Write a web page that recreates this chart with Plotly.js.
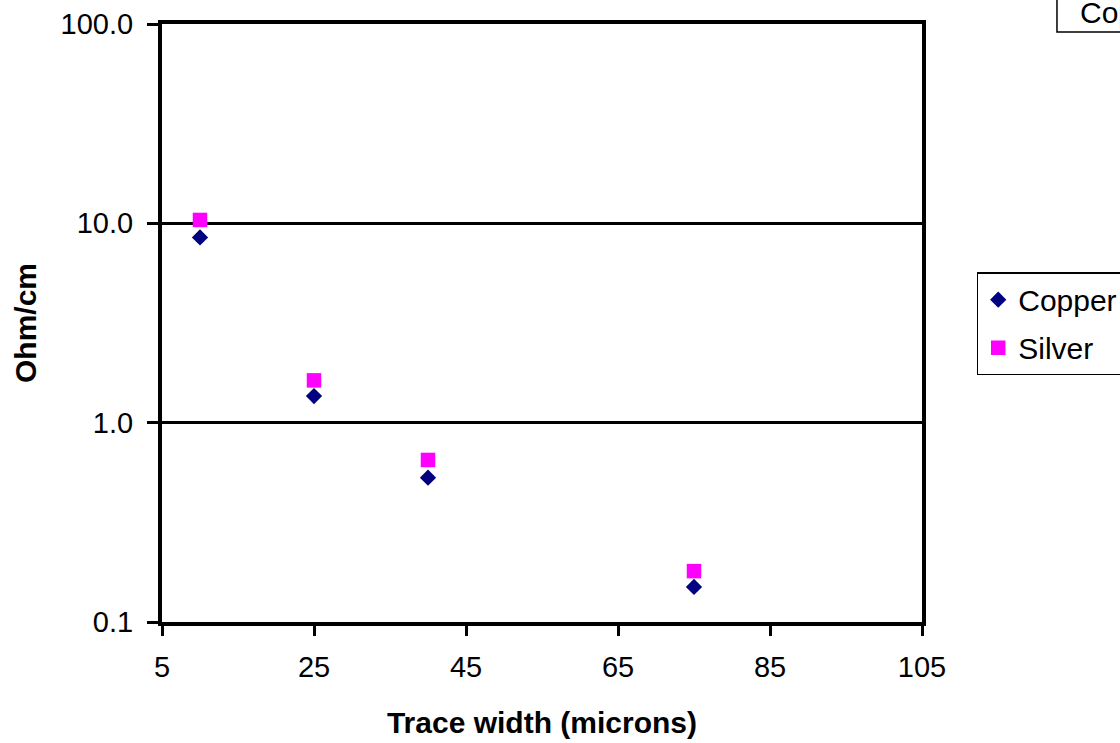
<!DOCTYPE html>
<html>
<head>
<meta charset="utf-8">
<script src="https://cdn.plot.ly/plotly-3.0.1.min.js"></script>
<style>
html,body{margin:0;padding:0;background:#fff;width:1120px;height:743px;overflow:hidden;}
#chart{width:1120px;height:743px;overflow:hidden;position:relative;}
</style>
</head>
<body>
<div id="chart"></div>
<script>
// Data
const traceWidths = [10, 25, 40, 75];
const copperOhm = [8.5, 1.36, 0.53, 0.15];
const silverOhm = [10.4, 1.63, 0.65, 0.18];
const xTickVals = [5, 25, 45, 65, 85, 105];
const yTickVals = [0.1, 1, 10, 100];
const yTickText = ['0.1', '1.0', '10.0', '100.0'];
const seriesNames = ['Copper', 'Silver'];
const chartTitle = 'Copper vs Silver trace resistance';

const FONT = 'Liberation Sans, Arial, sans-serif';

const traces = [
  {
    x: traceWidths, y: copperOhm, name: seriesNames[0], legendgroup: 'g1',
    type: 'scatter', mode: 'markers',
    marker: {symbol: 'diamond', size: 12.5, color: '#000080'}
  },
  {
    x: traceWidths, y: silverOhm, name: seriesNames[1], legendgroup: 'g2',
    type: 'scatter', mode: 'markers',
    marker: {symbol: 'square', size: 14.5, color: '#FF00FF'}
  }
];

const layout = {
  width: 1120, height: 743,
  paper_bgcolor: '#ffffff', plot_bgcolor: '#ffffff',
  margin: {l: 162, r: 198, t: 24, b: 121, autoexpand: false},
  font: {family: FONT, size: 29, color: '#000'},
  showlegend: true,
  legend: {
    x: 1.072, y: 0.585, xanchor: 'left', yanchor: 'top',
    bordercolor: '#000', borderwidth: 1.5, bgcolor: '#fff',
    font: {family: FONT, size: 30, color: '#000'},
    itemwidth: 30, traceorder: 'grouped', tracegroupgap: 6
  },
  xaxis: {
    range: [5, 105], tickvals: xTickVals, ticktext: xTickVals.map(String),
    showline: true, linecolor: '#000', linewidth: 4, mirror: true,
    ticks: 'outside', ticklen: 10, tickwidth: 3, tickcolor: '#000',
    ticklabelstandoff: 6,
    showgrid: false, zeroline: false,
    tickfont: {family: FONT, size: 29, color: '#000'},
    title: {text: 'Trace width (microns)', standoff: 31,
            font: {family: FONT, size: 30, color: '#000', weight: 700}},
    automargin: false
  },
  yaxis: {
    type: 'log', range: [-1, 2], tickvals: yTickVals, ticktext: yTickText,
    showline: true, linecolor: '#000', linewidth: 4, mirror: true,
    ticks: 'outside', ticklen: 11, tickwidth: 3, tickcolor: '#000',
    ticklabelstandoff: 8,
    showgrid: true, gridcolor: '#000', gridwidth: 2.5, zeroline: false,
    tickfont: {family: FONT, size: 29, color: '#000'},
    title: {text: 'Ohm/cm', standoff: 16,
            font: {family: FONT, size: 30, color: '#000', weight: 700}},
    automargin: false
  },
  shapes: [{
    type: 'rect', xref: 'paper', yref: 'paper',
    x0: 1.1776, x1: 1.3, y0: 0.9866, y1: 1.06,
    line: {color: '#000', width: 1.5}, fillcolor: '#fff', layer: 'above'
  }],
  annotations: [{
    text: chartTitle, xref: 'paper', yref: 'paper',
    x: 1.2066, y: 1.0184, xanchor: 'left', yanchor: 'middle',
    showarrow: false, align: 'left', borderpad: 0,
    font: {family: FONT, size: 30, color: '#000'}
  }]
};

Plotly.newPlot('chart', traces, layout, {displayModeBar: false, staticPlot: true});
</script>
</body>
</html>
